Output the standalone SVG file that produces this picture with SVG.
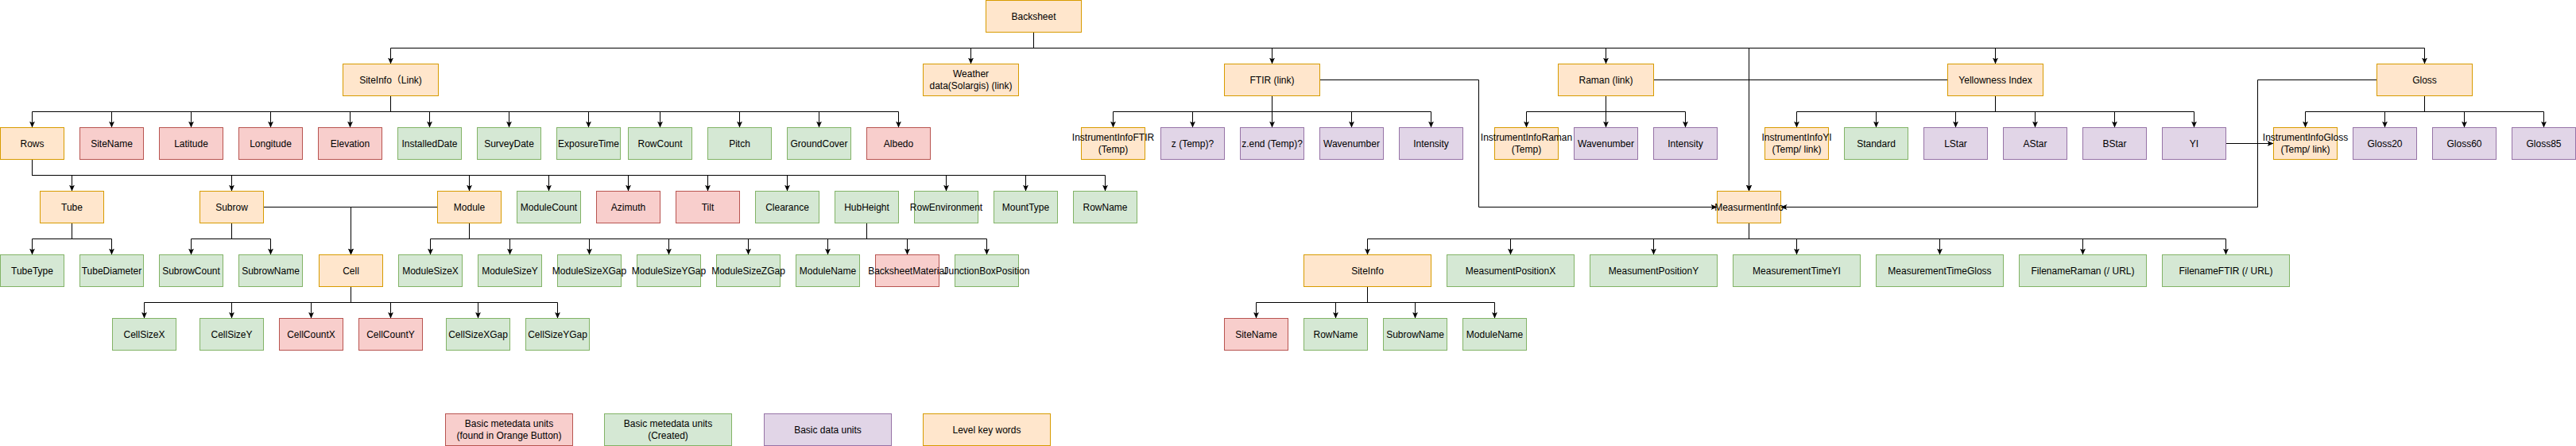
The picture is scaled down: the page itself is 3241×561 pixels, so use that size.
<svg xmlns="http://www.w3.org/2000/svg" width="3241" height="561" viewBox="0 0 3241 561">
<style>
.o{fill:#ffe6cc;stroke:#d79b00;stroke-width:1}
.r{fill:#f8cecc;stroke:#b85450;stroke-width:1}
.g{fill:#d5e8d4;stroke:#82b366;stroke-width:1}
.p{fill:#e1d5e7;stroke:#9673a6;stroke-width:1}
text{font-family:"Liberation Sans",Arial,"Noto Sans CJK SC",sans-serif;font-size:12px;fill:#000;text-anchor:middle;dominant-baseline:central}
#connectors path{fill:none;stroke:#000;stroke-width:1}
.a{marker-end:url(#arr)}
</style>
<defs>
<marker id="arr" viewBox="0 0 8 8" refX="8" refY="4" markerWidth="8" markerHeight="8" markerUnits="userSpaceOnUse" orient="auto">
<path d="M0,0.5 L8,4 L0,7.5 L2,4 Z" fill="#000"/>
</marker>
</defs>
<rect width="3241" height="561" fill="#fff"/>
<g id="connectors">
<!-- Backsheet -->
<path class="a" d="M1300.5,40.5 V60.5 H491.5 V80.5"/>
<path class="a" d="M1300.5,40.5 V60.5 H1221.5 V80.5"/>
<path class="a" d="M1300.5,40.5 V60.5 H1600.5 V80.5"/>
<path class="a" d="M1300.5,40.5 V60.5 H2020.5 V80.5"/>
<path class="a" d="M1300.5,40.5 V60.5 H2200.5 V240.5"/>
<path class="a" d="M1300.5,40.5 V60.5 H2510.5 V80.5"/>
<path class="a" d="M1300.5,40.5 V60.5 H3050.5 V80.5"/>
<!-- SiteInfo children -->
<path class="a" d="M491.5,120.5 V140.5 H40.5 V160.5"/>
<path class="a" d="M491.5,120.5 V140.5 H140.5 V160.5"/>
<path class="a" d="M491.5,120.5 V140.5 H240.5 V160.5"/>
<path class="a" d="M491.5,120.5 V140.5 H340.5 V160.5"/>
<path class="a" d="M491.5,120.5 V140.5 H440.5 V160.5"/>
<path class="a" d="M491.5,120.5 V140.5 H540.5 V160.5"/>
<path class="a" d="M491.5,120.5 V140.5 H640.5 V160.5"/>
<path class="a" d="M491.5,120.5 V140.5 H740.5 V160.5"/>
<path class="a" d="M491.5,120.5 V140.5 H830.5 V160.5"/>
<path class="a" d="M491.5,120.5 V140.5 H930.5 V160.5"/>
<path class="a" d="M491.5,120.5 V140.5 H1030.5 V160.5"/>
<path class="a" d="M491.5,120.5 V140.5 H1130.5 V160.5"/>
<!-- FTIR children -->
<path class="a" d="M1600.5,120.5 V140.5 H1400.5 V160.5"/>
<path class="a" d="M1600.5,120.5 V140.5 H1500.5 V160.5"/>
<path class="a" d="M1600.5,120.5 V160.5"/>
<path class="a" d="M1600.5,120.5 V140.5 H1700.5 V160.5"/>
<path class="a" d="M1600.5,120.5 V140.5 H1800.5 V160.5"/>
<!-- Raman children -->
<path class="a" d="M2020.5,120.5 V140.5 H1920.5 V160.5"/>
<path class="a" d="M2020.5,120.5 V160.5"/>
<path class="a" d="M2020.5,120.5 V140.5 H2120.5 V160.5"/>
<!-- Yellowness children -->
<path class="a" d="M2510.5,120.5 V140.5 H2260.5 V160.5"/>
<path class="a" d="M2510.5,120.5 V140.5 H2360.5 V160.5"/>
<path class="a" d="M2510.5,120.5 V140.5 H2460.5 V160.5"/>
<path class="a" d="M2510.5,120.5 V140.5 H2560.5 V160.5"/>
<path class="a" d="M2510.5,120.5 V140.5 H2660.5 V160.5"/>
<path class="a" d="M2510.5,120.5 V140.5 H2760.5 V160.5"/>
<!-- Gloss children -->
<path class="a" d="M3050.5,120.5 V140.5 H2900.5 V160.5"/>
<path class="a" d="M3050.5,120.5 V140.5 H3000.5 V160.5"/>
<path class="a" d="M3050.5,120.5 V140.5 H3100.5 V160.5"/>
<path class="a" d="M3050.5,120.5 V140.5 H3200.5 V160.5"/>
<path class="a" d="M2800.5,180.5 H2860.5"/>
<!-- Links to MeasurmentInfo -->
<path class="a" d="M1660.5,100.5 H1860.5 V260.5 H2160.5"/>
<path class="a" d="M2990.5,100.5 H2840.5 V260.5 H2240.5"/>
<path class="a" d="M2080.5,100.5 H2200.5 V240.5"/>
<path class="a" d="M2450.5,100.5 H2200.5 V240.5"/>
<!-- Rows children -->
<path class="a" d="M40.5,200.5 V220.5 H90.5 V240.5"/>
<path class="a" d="M40.5,200.5 V220.5 H291.5 V240.5"/>
<path class="a" d="M40.5,200.5 V220.5 H590.5 V240.5"/>
<path class="a" d="M40.5,200.5 V220.5 H690.5 V240.5"/>
<path class="a" d="M40.5,200.5 V220.5 H790.5 V240.5"/>
<path class="a" d="M40.5,200.5 V220.5 H890.5 V240.5"/>
<path class="a" d="M40.5,200.5 V220.5 H990.5 V240.5"/>
<path class="a" d="M40.5,200.5 V220.5 H1190.5 V240.5"/>
<path class="a" d="M40.5,200.5 V220.5 H1290.5 V240.5"/>
<path class="a" d="M40.5,200.5 V220.5 H1390.5 V240.5"/>
<!-- Tube / Subrow children -->
<path class="a" d="M90.5,280.5 V300.5 H40.5 V320.5"/>
<path class="a" d="M90.5,280.5 V300.5 H140.5 V320.5"/>
<path class="a" d="M291.5,280.5 V300.5 H240.5 V320.5"/>
<path class="a" d="M291.5,280.5 V300.5 H340.5 V320.5"/>
<path class="a" d="M331.5,260.5 H441.5 V320.5"/>
<path class="a" d="M550.5,260.5 H441.5 V320.5"/>
<!-- Module children -->
<path class="a" d="M590.5,280.5 V300.5 H541.5 V320.5"/>
<path class="a" d="M590.5,280.5 V300.5 H641.5 V320.5"/>
<path class="a" d="M590.5,280.5 V300.5 H741.5 V320.5"/>
<path class="a" d="M590.5,280.5 V300.5 H841.5 V320.5"/>
<path class="a" d="M590.5,280.5 V300.5 H941.5 V320.5"/>
<path class="a" d="M590.5,280.5 V300.5 H1041.5 V320.5"/>
<path class="a" d="M590.5,280.5 V300.5 H1141.5 V320.5"/>
<path class="a" d="M590.5,280.5 V300.5 H1241.5 V320.5"/>
<path d="M1090.5,280.5 V300.5"/>
<!-- Cell children -->
<path class="a" d="M441.5,360.5 V380.5 H181.5 V400.5"/>
<path class="a" d="M441.5,360.5 V380.5 H291.5 V400.5"/>
<path class="a" d="M441.5,360.5 V380.5 H391.5 V400.5"/>
<path class="a" d="M441.5,360.5 V380.5 H491.5 V400.5"/>
<path class="a" d="M441.5,360.5 V380.5 H601.5 V400.5"/>
<path class="a" d="M441.5,360.5 V380.5 H701.5 V400.5"/>
<!-- MeasurmentInfo children -->
<path class="a" d="M2200.5,280.5 V300.5 H1720.5 V320.5"/>
<path class="a" d="M2200.5,280.5 V300.5 H1900.5 V320.5"/>
<path class="a" d="M2200.5,280.5 V300.5 H2080.5 V320.5"/>
<path class="a" d="M2200.5,280.5 V300.5 H2260.5 V320.5"/>
<path class="a" d="M2200.5,280.5 V300.5 H2440.5 V320.5"/>
<path class="a" d="M2200.5,280.5 V300.5 H2620.5 V320.5"/>
<path class="a" d="M2200.5,280.5 V300.5 H2800.5 V320.5"/>
<!-- SiteInfo (measurement) children -->
<path class="a" d="M1720.5,360.5 V380.5 H1580.5 V400.5"/>
<path class="a" d="M1720.5,360.5 V380.5 H1680.5 V400.5"/>
<path class="a" d="M1720.5,360.5 V380.5 H1780.5 V400.5"/>
<path class="a" d="M1720.5,360.5 V380.5 H1880.5 V400.5"/>
</g>

<g id="backsheet"><rect class="o" x="1240.5" y="0.5" width="120" height="40"/><text x="1300.5" y="20.5">Backsheet</text></g>

<g id="siteinfo"><rect class="o" x="431.5" y="80.5" width="120" height="40"/><text x="491.5" y="100.5">SiteInfo（Link)</text></g>
<g id="weather"><rect class="o" x="1161.5" y="80.5" width="120" height="40"/><text x="1221.5" y="93">Weather</text><text x="1221.5" y="108">data(Solargis) (link)</text></g>
<g id="ftir"><rect class="o" x="1540.5" y="80.5" width="120" height="40"/><text x="1600.5" y="100.5">FTIR (link)</text></g>
<g id="raman"><rect class="o" x="1960.5" y="80.5" width="120" height="40"/><text x="2020.5" y="100.5">Raman (link)</text></g>
<g id="yellowness"><rect class="o" x="2450.5" y="80.5" width="120" height="40"/><text x="2510.5" y="100.5">Yellowness Index</text></g>
<g id="gloss"><rect class="o" x="2990.5" y="80.5" width="120" height="40"/><text x="3050.5" y="100.5">Gloss</text></g>

<g id="rows"><rect class="o" x="0.5" y="160.5" width="80" height="40"/><text x="40.5" y="180.5">Rows</text></g>
<g id="sitename"><rect class="r" x="100.5" y="160.5" width="80" height="40"/><text x="140.5" y="180.5">SiteName</text></g>
<g id="latitude"><rect class="r" x="200.5" y="160.5" width="80" height="40"/><text x="240.5" y="180.5">Latitude</text></g>
<g id="longitude"><rect class="r" x="300.5" y="160.5" width="80" height="40"/><text x="340.5" y="180.5">Longitude</text></g>
<g id="elevation"><rect class="r" x="400.5" y="160.5" width="80" height="40"/><text x="440.5" y="180.5">Elevation</text></g>
<g id="installeddate"><rect class="g" x="500.5" y="160.5" width="80" height="40"/><text x="540.5" y="180.5">InstalledDate</text></g>
<g id="surveydate"><rect class="g" x="600.5" y="160.5" width="80" height="40"/><text x="640.5" y="180.5">SurveyDate</text></g>
<g id="exposuretime"><rect class="g" x="700.5" y="160.5" width="80" height="40"/><text x="740.5" y="180.5">ExposureTime</text></g>
<g id="rowcount"><rect class="g" x="790.5" y="160.5" width="80" height="40"/><text x="830.5" y="180.5">RowCount</text></g>
<g id="pitch"><rect class="g" x="890.5" y="160.5" width="80" height="40"/><text x="930.5" y="180.5">Pitch</text></g>
<g id="groundcover"><rect class="g" x="990.5" y="160.5" width="80" height="40"/><text x="1030.5" y="180.5">GroundCover</text></g>
<g id="albedo"><rect class="r" x="1090.5" y="160.5" width="80" height="40"/><text x="1130.5" y="180.5">Albedo</text></g>

<g id="instftir"><rect class="o" x="1360.5" y="160.5" width="80" height="40"/><text x="1400.5" y="173">InstrumentInfoFTIR</text><text x="1400.5" y="188">(Temp)</text></g>
<g id="ztemp"><rect class="p" x="1460.5" y="160.5" width="80" height="40"/><text x="1500.5" y="180.5">z (Temp)?</text></g>
<g id="zend"><rect class="p" x="1560.5" y="160.5" width="80" height="40"/><text x="1600.5" y="180.5">z.end (Temp)?</text></g>
<g id="wavenumber1"><rect class="p" x="1660.5" y="160.5" width="80" height="40"/><text x="1700.5" y="180.5">Wavenumber</text></g>
<g id="intensity1"><rect class="p" x="1760.5" y="160.5" width="80" height="40"/><text x="1800.5" y="180.5">Intensity</text></g>

<g id="instraman"><rect class="o" x="1880.5" y="160.5" width="80" height="40"/><text x="1920.5" y="173">InstrumentInfoRaman</text><text x="1920.5" y="188">(Temp)</text></g>
<g id="wavenumber2"><rect class="p" x="1980.5" y="160.5" width="80" height="40"/><text x="2020.5" y="180.5">Wavenumber</text></g>
<g id="intensity2"><rect class="p" x="2080.5" y="160.5" width="80" height="40"/><text x="2120.5" y="180.5">Intensity</text></g>

<g id="instyi"><rect class="o" x="2220.5" y="160.5" width="80" height="40"/><text x="2260.5" y="173">InstrumentInfoYI</text><text x="2260.5" y="188">(Temp/ link)</text></g>
<g id="standard"><rect class="g" x="2320.5" y="160.5" width="80" height="40"/><text x="2360.5" y="180.5">Standard</text></g>
<g id="lstar"><rect class="p" x="2420.5" y="160.5" width="80" height="40"/><text x="2460.5" y="180.5">LStar</text></g>
<g id="astar"><rect class="p" x="2520.5" y="160.5" width="80" height="40"/><text x="2560.5" y="180.5">AStar</text></g>
<g id="bstar"><rect class="p" x="2620.5" y="160.5" width="80" height="40"/><text x="2660.5" y="180.5">BStar</text></g>
<g id="yi"><rect class="p" x="2720.5" y="160.5" width="80" height="40"/><text x="2760.5" y="180.5">YI</text></g>

<g id="instgloss"><rect class="o" x="2860.5" y="160.5" width="80" height="40"/><text x="2900.5" y="173">InstrumentInfoGloss</text><text x="2900.5" y="188">(Temp/ link)</text></g>
<g id="gloss20"><rect class="p" x="2960.5" y="160.5" width="80" height="40"/><text x="3000.5" y="180.5">Gloss20</text></g>
<g id="gloss60"><rect class="p" x="3060.5" y="160.5" width="80" height="40"/><text x="3100.5" y="180.5">Gloss60</text></g>
<g id="gloss85"><rect class="p" x="3160.5" y="160.5" width="80" height="40"/><text x="3200.5" y="180.5">Gloss85</text></g>

<g id="tube"><rect class="o" x="50.5" y="240.5" width="80" height="40"/><text x="90.5" y="260.5">Tube</text></g>
<g id="subrow"><rect class="o" x="251.5" y="240.5" width="80" height="40"/><text x="291.5" y="260.5">Subrow</text></g>
<g id="module"><rect class="o" x="550.5" y="240.5" width="80" height="40"/><text x="590.5" y="260.5">Module</text></g>
<g id="modulecount"><rect class="g" x="650.5" y="240.5" width="80" height="40"/><text x="690.5" y="260.5">ModuleCount</text></g>
<g id="azimuth"><rect class="r" x="750.5" y="240.5" width="80" height="40"/><text x="790.5" y="260.5">Azimuth</text></g>
<g id="tilt"><rect class="r" x="850.5" y="240.5" width="80" height="40"/><text x="890.5" y="260.5">Tilt</text></g>
<g id="clearance"><rect class="g" x="950.5" y="240.5" width="80" height="40"/><text x="990.5" y="260.5">Clearance</text></g>
<g id="hubheight"><rect class="g" x="1050.5" y="240.5" width="80" height="40"/><text x="1090.5" y="260.5">HubHeight</text></g>
<g id="rowenvironment"><rect class="g" x="1150.5" y="240.5" width="80" height="40"/><text x="1190.5" y="260.5">RowEnvironment</text></g>
<g id="mounttype"><rect class="g" x="1250.5" y="240.5" width="80" height="40"/><text x="1290.5" y="260.5">MountType</text></g>
<g id="rowname"><rect class="g" x="1350.5" y="240.5" width="80" height="40"/><text x="1390.5" y="260.5">RowName</text></g>
<g id="measurmentinfo"><rect class="o" x="2160.5" y="240.5" width="80" height="40"/><text x="2200.5" y="260.5">MeasurmentInfo</text></g>

<g id="tubetype"><rect class="g" x="0.5" y="320.5" width="80" height="40"/><text x="40.5" y="340.5">TubeType</text></g>
<g id="tubediameter"><rect class="g" x="100.5" y="320.5" width="80" height="40"/><text x="140.5" y="340.5">TubeDiameter</text></g>
<g id="subrowcount"><rect class="g" x="200.5" y="320.5" width="80" height="40"/><text x="240.5" y="340.5">SubrowCount</text></g>
<g id="subrowname"><rect class="g" x="300.5" y="320.5" width="80" height="40"/><text x="340.5" y="340.5">SubrowName</text></g>
<g id="cell"><rect class="o" x="401.5" y="320.5" width="80" height="40"/><text x="441.5" y="340.5">Cell</text></g>
<g id="modulesizex"><rect class="g" x="501.5" y="320.5" width="80" height="40"/><text x="541.5" y="340.5">ModuleSizeX</text></g>
<g id="modulesizey"><rect class="g" x="601.5" y="320.5" width="80" height="40"/><text x="641.5" y="340.5">ModuleSizeY</text></g>
<g id="modulesizexgap"><rect class="g" x="701.5" y="320.5" width="80" height="40"/><text x="741.5" y="340.5">ModuleSizeXGap</text></g>
<g id="modulesizeygap"><rect class="g" x="801.5" y="320.5" width="80" height="40"/><text x="841.5" y="340.5">ModuleSizeYGap</text></g>
<g id="modulesizezgap"><rect class="g" x="901.5" y="320.5" width="80" height="40"/><text x="941.5" y="340.5">ModuleSizeZGap</text></g>
<g id="modulename"><rect class="g" x="1001.5" y="320.5" width="80" height="40"/><text x="1041.5" y="340.5">ModuleName</text></g>
<g id="backsheetmaterial"><rect class="r" x="1101.5" y="320.5" width="80" height="40"/><text x="1141.5" y="340.5">BacksheetMaterial</text></g>
<g id="junctionboxposition"><rect class="g" x="1201.5" y="320.5" width="80" height="40"/><text x="1241.5" y="340.5">JunctionBoxPosition</text></g>

<g id="m-siteinfo"><rect class="o" x="1640.5" y="320.5" width="160" height="40"/><text x="1720.5" y="340.5">SiteInfo</text></g>
<g id="m-posx"><rect class="g" x="1820.5" y="320.5" width="160" height="40"/><text x="1900.5" y="340.5">MeasumentPositionX</text></g>
<g id="m-posy"><rect class="g" x="2000.5" y="320.5" width="160" height="40"/><text x="2080.5" y="340.5">MeasumentPositionY</text></g>
<g id="m-timeyi"><rect class="g" x="2180.5" y="320.5" width="160" height="40"/><text x="2260.5" y="340.5">MeasurementTimeYI</text></g>
<g id="m-timegloss"><rect class="g" x="2360.5" y="320.5" width="160" height="40"/><text x="2440.5" y="340.5">MeasurementTimeGloss</text></g>
<g id="m-fileraman"><rect class="g" x="2540.5" y="320.5" width="160" height="40"/><text x="2620.5" y="340.5">FilenameRaman (/ URL)</text></g>
<g id="m-fileftir"><rect class="g" x="2720.5" y="320.5" width="160" height="40"/><text x="2800.5" y="340.5">FilenameFTIR (/ URL)</text></g>

<g id="cellsizex"><rect class="g" x="141.5" y="400.5" width="80" height="40"/><text x="181.5" y="420.5">CellSizeX</text></g>
<g id="cellsizey"><rect class="g" x="251.5" y="400.5" width="80" height="40"/><text x="291.5" y="420.5">CellSizeY</text></g>
<g id="cellcountx"><rect class="r" x="351.5" y="400.5" width="80" height="40"/><text x="391.5" y="420.5">CellCountX</text></g>
<g id="cellcounty"><rect class="r" x="451.5" y="400.5" width="80" height="40"/><text x="491.5" y="420.5">CellCountY</text></g>
<g id="cellsizexgap"><rect class="g" x="561.5" y="400.5" width="80" height="40"/><text x="601.5" y="420.5">CellSizeXGap</text></g>
<g id="cellsizeygap"><rect class="g" x="661.5" y="400.5" width="80" height="40"/><text x="701.5" y="420.5">CellSizeYGap</text></g>

<g id="s-sitename"><rect class="r" x="1540.5" y="400.5" width="80" height="40"/><text x="1580.5" y="420.5">SiteName</text></g>
<g id="s-rowname"><rect class="g" x="1640.5" y="400.5" width="80" height="40"/><text x="1680.5" y="420.5">RowName</text></g>
<g id="s-subrowname"><rect class="g" x="1740.5" y="400.5" width="80" height="40"/><text x="1780.5" y="420.5">SubrowName</text></g>
<g id="s-modulename"><rect class="g" x="1840.5" y="400.5" width="80" height="40"/><text x="1880.5" y="420.5">ModuleName</text></g>

<g id="legend-red"><rect class="r" x="560.5" y="520.5" width="160" height="40"/><text x="640.5" y="533">Basic metedata units</text><text x="640.5" y="548">(found in Orange Button)</text></g>
<g id="legend-green"><rect class="g" x="760.5" y="520.5" width="160" height="40"/><text x="840.5" y="533">Basic metedata units</text><text x="840.5" y="548">(Created)</text></g>
<g id="legend-purple"><rect class="p" x="961.5" y="520.5" width="160" height="40"/><text x="1041.5" y="540.5">Basic data units</text></g>
<g id="legend-orange"><rect class="o" x="1161.5" y="520.5" width="160" height="40"/><text x="1241.5" y="540.5">Level key words</text></g>
</svg>
